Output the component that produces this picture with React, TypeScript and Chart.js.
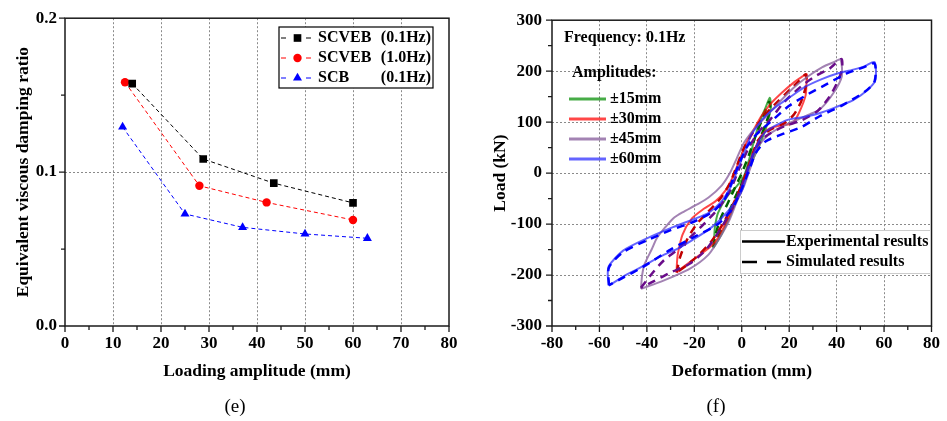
import React, { useEffect, useRef } from 'react';
import { Chart, registerables } from 'chart.js';
Chart.register(...registerables);

const FONT = '"Liberation Serif", "Times New Roman", serif';

// ---------- Panel (e) data ----------
const ampTicks = [0, 10, 20, 30, 40, 50, 60, 70, 80];
const ampMinor = [5, 15, 25, 35, 45, 55, 65, 75];
const ratioTicks = [0, 0.1, 0.2];
const ratioMinor = [0.05, 0.15];
const scveb01X = [14, 28.8, 43.5, 60];
const scveb01Y = [0.1575, 0.1085, 0.0928, 0.08];
const scveb10X = [12.5, 28, 42, 60];
const scveb10Y = [0.1584, 0.0911, 0.0803, 0.0689];
const scbX = [12, 25, 37, 50, 63];
const scbY = [0.1293, 0.0728, 0.0641, 0.0598, 0.057];
const eNames = ['SCVEB', 'SCVEB', 'SCB'];
const eFreqs = ['(0.1Hz)', '(1.0Hz)', '(0.1Hz)'];

// ---------- Panel (f) data ----------
const defTicks = [-80, -60, -40, -20, 0, 20, 40, 60, 80];
const defMinor = [-70, -50, -30, -10, 10, 30, 50, 70];
const loadTicks = [-300, -200, -100, 0, 100, 200, 300];
const loadMinor = [-250, -150, -50, 50, 150, 250];
const ampLabels = ['±15mm', '±30mm', '±45mm', '±60mm'];

const exp15X = [-12, -11.6, -11.3, -10, -6, -2, 1, 3, 5, 7.5, 10, 11.8, 12.3, 11.2, 10, 7.5, 4.5, 1.5, -1.5, -4.5, -8.5, -12];
const exp15Y = [-147, -125, -105, -78, -45, -25, -5, 25, 60, 100, 128, 148, 130, 105, 85, 55, 25, -5, -40, -80, -120, -147];
const sim15X = [-12, -11, -9, -6, -3, 0, 3, 6, 9, 11.5, 12, 10, 7, 4, 1, -3, -7, -10, -12];
const sim15Y = [-145, -120, -90, -60, -30, 0, 35, 75, 110, 140, 125, 95, 60, 25, -10, -50, -95, -125, -145];

const exp30X = [-27.5, -27.3, -27, -25, -21, -16, -11, -7, -4, -1, 2, 5, 8, 12, 17, 22, 25, 27.4, 27.3, 26.9, 24.2, 21.4, 17, 12, 8, 5, 2, -1.5, -5.6, -11, -16, -20, -24, -27.5];
const exp30Y = [-195, -175, -160, -121, -89, -70, -55, -35, -10, 25, 60, 85, 110, 135, 158, 178, 188, 194, 178, 152, 119, 98, 94, 88, 72, 40, 0, -43, -88, -134, -155, -168, -182, -195];
const sim30X = [-27.5, -26, -23, -19, -14, -9, -5, -2, 1, 5, 9, 14, 19, 24, 27, 27, 25, 22, 18, 12, 7, 4, 1, -3, -8, -13, -18, -23, -27.5];
const sim30Y = [-195, -165, -130, -100, -75, -50, -20, 15, 50, 82, 110, 135, 158, 180, 194, 170, 140, 115, 98, 85, 65, 30, -10, -55, -100, -135, -160, -180, -195];

const exp45X = [-42.5, -42, -41, -38, -35.7, -32, -28.7, -25, -19, -14, -8.4, -5, -2, 1, 5, 10, 16, 22, 28, 34, 39, 41.6, 42.2, 38.8, 33.2, 29, 25, 20, 12, 7, 4, 1, -2, -5, -9, -14, -22, -33, -42.5];
const exp45Y = [-227, -200, -179, -150, -127, -105, -88, -77, -62, -48, -24, 0, 30, 60, 85, 110, 140, 168, 190, 208, 218, 223, 190, 158, 126, 116, 108, 98, 78, 52, 15, -25, -55, -90, -125, -160, -188, -211, -227];
const sim45X = [-42.5, -38, -33, -27, -22, -16, -10, -5, -1, 3, 7, 12, 18, 25, 31, 37, 42, 42.3, 40.5, 37, 32, 25, 18, 10, 6, 3, 0, -4, -9, -15, -22, -30, -37, -42.5];
const sim45Y = [-225, -198, -172, -150, -127, -100, -70, -35, 10, 50, 80, 105, 140, 170, 190, 205, 224, 205, 180, 150, 122, 103, 92, 72, 50, 15, -25, -70, -110, -150, -178, -195, -212, -225];

const exp60X = [-56, -56.5, -56, -50, -40, -29, -20, -14, -9, -6, -3.5, -1.5, 1.5, 4, 7, 10, 15, 20, 27, 34, 40, 47, 52, 56, 56.3, 53, 47, 40, 33, 26, 19, 13, 10, 7, 3.3, 0, -5.7, -12.6, -21, -27, -34, -43, -50, -56];
const exp60Y = [-221, -200, -182, -152, -128, -106, -90, -78, -58, -38, -15, 10, 45, 75, 95, 112, 132, 148, 170, 185, 195, 203, 210, 218, 182, 163, 143, 130, 118, 110, 104, 90, 81, 61, 16, -35, -74, -106, -132, -148, -163, -186, -203, -221];
const sim60X = [-56, -56, -50, -40, -30, -20, -12, -7, -4, -1, 2, 6, 12, 20, 28, 36, 44, 51, 56, 56, 52, 42, 33, 25, 18, 10, 6, 3, 0, -4, -10, -20, -30, -42, -50, -56];
const sim60Y = [-220, -185, -155, -132, -112, -95, -75, -50, -15, 20, 50, 75, 100, 132, 155, 175, 195, 207, 215, 180, 160, 132, 112, 90, 78, 62, 40, 5, -30, -70, -100, -125, -150, -185, -205, -220];

const expColors = ['rgba(0,140,0,0.72)', 'rgba(255,0,0,0.72)', 'rgba(140,100,160,0.8)', 'rgba(40,40,255,0.72)'];
const simColors = ['#006400', '#c00000', '#6a0d8a', '#0000ff'];

const pts = (xs: number[], ys: number[]) => xs.map((x, i) => ({ x, y: ys[i] }));

function linScale(min: number, max: number, ticksArr: number[], fmt: (v: number) => string, pad: number, fit: { width?: number; height?: number }) {
  return {
    type: 'linear',
    min,
    max,
    afterBuildTicks: (s: any) => {
      s.ticks = ticksArr.map((v) => ({ value: v }));
    },
    afterFit: (s: any) => {
      if (fit.width !== undefined) s.width = fit.width;
      if (fit.height !== undefined) s.height = fit.height;
    },
    ticks: {
      font: { family: FONT, size: 17, weight: 'bold' },
      color: '#000',
      padding: pad,
      autoSkip: false,
      maxRotation: 0,
      callback: (v: any) => fmt(Number(v)),
    },
    grid: {
      drawTicks: false,
      lineWidth: 1,
      color: (c: any) => {
        const v = c.tick ? c.tick.value : undefined;
        if (v === undefined || Math.abs(v - min) < 1e-9 || Math.abs(v - max) < 1e-9) return 'rgba(0,0,0,0)';
        return '#8a8a8a';
      },
    },
    border: { display: false, dash: [2, 2] },
  };
}

function drawFrameTicks(ctx: CanvasRenderingContext2D, a: any, xs: any, ys: any, xMaj: number[], xMin: number[], yMaj: number[], yMin: number[]) {
  ctx.save();
  ctx.strokeStyle = '#1a1a1a';
  ctx.lineWidth = 1.3;
  ctx.setLineDash([]);
  ctx.beginPath();
  xMaj.forEach((v) => { const p = xs.getPixelForValue(v); ctx.moveTo(p, a.bottom); ctx.lineTo(p, a.bottom + 6); });
  xMin.forEach((v) => { const p = xs.getPixelForValue(v); ctx.moveTo(p, a.bottom); ctx.lineTo(p, a.bottom + 4); });
  yMaj.forEach((v) => { const p = ys.getPixelForValue(v); ctx.moveTo(a.left, p); ctx.lineTo(a.left - 6, p); });
  yMin.forEach((v) => { const p = ys.getPixelForValue(v); ctx.moveTo(a.left, p); ctx.lineTo(a.left - 4, p); });
  ctx.stroke();
  ctx.lineWidth = 1.5;
  ctx.strokeRect(a.left, a.top, a.right - a.left, a.bottom - a.top);
  ctx.restore();
}

function drawMarker(ctx: CanvasRenderingContext2D, style: string, x: number, y: number, r: number, color: string) {
  ctx.fillStyle = color;
  ctx.beginPath();
  if (style === 'rect') {
    const s = Math.SQRT1_2 * r;
    ctx.rect(x - s, y - s, 2 * s, 2 * s);
  } else if (style === 'circle') {
    ctx.arc(x, y, r, 0, Math.PI * 2);
  } else {
    let rad = 0;
    const T = (Math.PI * 2) / 3;
    ctx.moveTo(x + Math.sin(rad) * r, y - Math.cos(rad) * r);
    rad += T;
    ctx.lineTo(x + Math.sin(rad) * r, y - Math.cos(rad) * r);
    rad += T;
    ctx.lineTo(x + Math.sin(rad) * r, y - Math.cos(rad) * r);
    ctx.closePath();
  }
  ctx.fill();
}

const eStyles = [
  { color: '#000000', point: 'rect', r: 5.4 },
  { color: '#ff0000', point: 'circle', r: 4.2 },
  { color: '#0000ff', point: 'triangle', r: 5.2 },
];

const decorE = {
  id: 'decorE',
  afterDraw(chart: any) {
    const { ctx, chartArea: a } = chart;
    drawFrameTicks(ctx, a, chart.scales.x, chart.scales.y, ampTicks, ampMinor, ratioTicks, ratioMinor);
    ctx.save();
    ctx.fillStyle = '#000';
    ctx.font = `bold 17.5px ${FONT}`;
    ctx.textAlign = 'center';
    ctx.textBaseline = 'middle';
    ctx.fillText('Loading amplitude (mm)', (a.left + a.right) / 2, 371);
    ctx.save();
    ctx.translate(23, (a.top + a.bottom) / 2);
    ctx.rotate(-Math.PI / 2);
    ctx.fillText('Equivalent viscous damping ratio', 0, 0);
    ctx.restore();
    ctx.font = `19px ${FONT}`;
    ctx.fillText('(e)', 235, 407);
    // legend
    ctx.fillStyle = '#fff';
    ctx.fillRect(279, 27, 154, 61);
    ctx.strokeStyle = '#000';
    ctx.lineWidth = 1.2;
    ctx.strokeRect(279, 27, 154, 61);
    eStyles.forEach((s, i) => {
      const y = 38 + i * 20;
      ctx.strokeStyle = s.color;
      ctx.lineWidth = 1;
      ctx.beginPath();
      ctx.moveTo(281, y); ctx.lineTo(286, y);
      ctx.moveTo(306, y); ctx.lineTo(311, y);
      ctx.stroke();
      drawMarker(ctx, s.point, 297.5, y, s.r, s.color);
      ctx.fillStyle = '#000';
      ctx.font = `bold 16px ${FONT}`;
      ctx.textAlign = 'left';
      ctx.fillText(eNames[i], 318, y);
      ctx.textAlign = 'right';
      ctx.fillText(eFreqs[i], 431, y);
    });
    ctx.restore();
  },
};

const decorF = {
  id: 'decorF',
  afterDraw(chart: any) {
    const { ctx, chartArea: a } = chart;
    drawFrameTicks(ctx, a, chart.scales.x, chart.scales.y, defTicks, defMinor, loadTicks, loadMinor);
    ctx.save();
    ctx.fillStyle = '#000';
    ctx.font = `bold 17.5px ${FONT}`;
    ctx.textAlign = 'center';
    ctx.textBaseline = 'middle';
    ctx.fillText('Deformation (mm)', (a.left + a.right) / 2, 371);
    ctx.save();
    ctx.translate(23, (a.top + a.bottom) / 2);
    ctx.rotate(-Math.PI / 2);
    ctx.fillText('Load (kN)', 0, 0);
    ctx.restore();
    ctx.font = `19px ${FONT}`;
    ctx.fillText('(f)', 239, 407);
    ctx.font = `bold 16px ${FONT}`;
    ctx.textAlign = 'left';
    ctx.fillText('Frequency: 0.1Hz', 87, 38);
    ctx.fillText('Amplitudes:', 95, 73);
    ampLabels.forEach((lab, i) => {
      const y = 99 + i * 20;
      ctx.strokeStyle = expColors[i];
      ctx.lineWidth = 3;
      ctx.beginPath();
      ctx.moveTo(92, y); ctx.lineTo(129, y);
      ctx.stroke();
      ctx.fillStyle = '#000';
      ctx.fillText(lab, 133, y);
    });
    // box legend
    ctx.fillStyle = '#fff';
    ctx.fillRect(263, 230, 190, 43);
    ctx.strokeStyle = '#cccccc';
    ctx.lineWidth = 1;
    ctx.strokeRect(263.5, 230.5, 190, 43);
    ctx.strokeStyle = '#000';
    ctx.lineWidth = 2.5;
    ctx.beginPath();
    ctx.moveTo(265, 241.5); ctx.lineTo(308, 241.5);
    ctx.moveTo(265, 262); ctx.lineTo(280, 262);
    ctx.moveTo(290, 262); ctx.lineTo(304, 262);
    ctx.stroke();
    ctx.fillStyle = '#000';
    ctx.fillText('Experimental results', 309, 241.5);
    ctx.fillText('Simulated results', 309, 262);
    ctx.restore();
  },
};

export default function App() {
  const eRef = useRef<HTMLCanvasElement>(null);
  const fRef = useRef<HTMLCanvasElement>(null);

  useEffect(() => {
    const eDatasets = [
      { data: pts(scveb01X, scveb01Y) },
      { data: pts(scveb10X, scveb10Y) },
      { data: pts(scbX, scbY) },
    ].map((d, i) => ({
      ...d,
      showLine: true,
      borderColor: eStyles[i].color,
      backgroundColor: eStyles[i].color,
      borderWidth: 1,
      borderDash: [4, 3],
      pointStyle: eStyles[i].point,
      pointRadius: eStyles[i].r,
      pointBorderWidth: 0,
      pointBackgroundColor: eStyles[i].color,
    }));

    const c1 = new Chart(eRef.current as HTMLCanvasElement, {
      type: 'scatter',
      data: { datasets: eDatasets as any },
      options: {
        responsive: false,
        animation: false,
        events: [],
        layout: { padding: { top: 17, right: 21, left: 0, bottom: 0 } },
        plugins: { legend: { display: false }, tooltip: { enabled: false } },
        scales: {
          x: linScale(0, 80, ampTicks, (v) => String(v), 7, { height: 95 }) as any,
          y: linScale(0, 0.2, ratioTicks, (v) => v.toFixed(1), 8, { width: 65 }) as any,
        },
      },
      plugins: [decorE],
    });

    const loops = [
      { d: pts(sim60X, sim60Y), c: simColors[3], sim: true },
      { d: pts(exp60X, exp60Y), c: expColors[3], sim: false },
      { d: pts(sim45X, sim45Y), c: simColors[2], sim: true },
      { d: pts(exp45X, exp45Y), c: expColors[2], sim: false },
      { d: pts(sim30X, sim30Y), c: simColors[1], sim: true },
      { d: pts(exp30X, exp30Y), c: expColors[1], sim: false },
      { d: pts(sim15X, sim15Y), c: simColors[0], sim: true },
      { d: pts(exp15X, exp15Y), c: expColors[0], sim: false },
    ];
    const fDatasets = loops.map((l) => ({
      data: l.d,
      showLine: true,
      borderColor: l.c,
      backgroundColor: l.c,
      borderWidth: l.sim ? 2.5 : 2,
      borderDash: l.sim ? [8, 6] : [],
      pointRadius: 0,
      tension: 0.25,
    }));

    const c2 = new Chart(fRef.current as HTMLCanvasElement, {
      type: 'scatter',
      data: { datasets: fDatasets as any },
      options: {
        responsive: false,
        animation: false,
        events: [],
        layout: { padding: { top: 17, right: 11, left: 0, bottom: 0 } },
        plugins: { legend: { display: false }, tooltip: { enabled: false } },
        scales: {
          x: linScale(-80, 80, defTicks, (v) => String(v), 7, { height: 95 }) as any,
          y: linScale(-300, 300, loadTicks, (v) => String(v), 10, { width: 75 }) as any,
        },
      },
      plugins: [decorF],
    });

    return () => {
      c1.destroy();
      c2.destroy();
    };
  }, []);

  return (
    <div style={{ position: 'absolute', left: 0, top: 0, width: 947, height: 421, background: '#fff' }}>
      <canvas ref={eRef} width={470} height={421} style={{ position: 'absolute', left: 0, top: 0 }} />
      <canvas ref={fRef} width={470} height={421} style={{ position: 'absolute', left: 477, top: 0 }} />
    </div>
  );
}
